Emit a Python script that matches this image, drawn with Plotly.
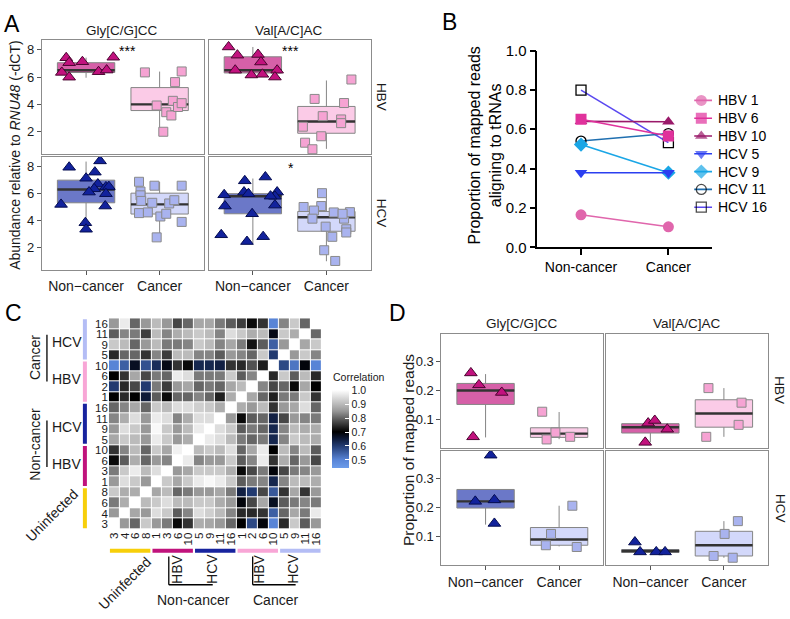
import plotly.graph_objects as go

W, H = 790, 619
FONT = "Liberation Sans, Arial, sans-serif"
TXT = "#1a1a1a"


def fx(px):
    return px / W


def fy(py):
    return 1 - py / H


# ---------------- Panel A data (abundance, -dCT) ----------------
conditions = ["Non\u2212cancer", "Cancer"]
a_gly_hbv_nc = [7.41, 7.05, 6.34, 7.12, 5.99, 6.39, 6.51, 7.45]
a_gly_hbv_nc_dx = [-0.27, -0.23, -0.33, -0.05, -0.23, 0.17, 0.28, 0.37]
a_gly_hbv_nc_box = [5.95, 6.33, 6.5, 7.05, 7.42]
a_gly_hbv_c = [6.34, 6.41, 5.63, 3.92, 3.43, 3.19, 4.26, 3.81, 4.09, 2.0]
a_gly_hbv_c_dx = [-0.2, 0.3, 0.21, -0.04, 0.09, 0.16, 0.18, 0.25, 0.3, 0.05]
a_gly_hbv_c_box = [2.0, 3.55, 4.0, 5.23, 6.4]
a_val_hbv_nc = [8.2, 7.6, 6.5, 7.65, 7.1, 6.15, 6.2, 6.5, 6.0]
a_val_hbv_nc_dx = [-0.33, -0.21, -0.24, 0.07, 0.11, -0.02, 0.13, 0.33, 0.3]
a_val_hbv_nc_box = [6.0, 6.3, 6.5, 7.48, 8.2]
a_val_hbv_c = [4.4, 3.14, 2.37, 2.9, 4.1, 2.63, 1.67, 1.2, 0.72, 5.82]
a_val_hbv_c_dx = [-0.16, -0.05, -0.32, 0.2, 0.24, 0.2, -0.07, -0.29, -0.19, 0.34]
a_val_hbv_c_box = [0.75, 1.89, 2.75, 3.85, 5.75]
a_gly_hcv_nc = [5.19, 7.93, 7.12, 7.57, 8.4, 6.69, 6.34, 6.1, 6.48, 6.5, 5.98, 5.07, 3.84, 3.36]
a_gly_hcv_nc_dx = [-0.34, -0.23, 0.0, 0.12, 0.19, 0.16, 0.11, 0.04, 0.27, 0.31, 0.27, 0.26, -0.01, 0.0]
a_gly_hcv_nc_box = [3.3, 5.31, 6.29, 6.98, 8.35]
a_gly_hcv_c = [6.86, 6.14, 5.86, 5.45, 4.55, 4.6, 6.57, 5.31, 4.3, 4.5, 5.26, 5.5, 6.57, 3.9, 2.76]
a_gly_hcv_c_dx = [-0.28, -0.26, -0.26, -0.25, -0.28, -0.16, -0.07, -0.1, 0.01, 0.09, 0.13, 0.2, 0.3, 0.3, -0.04]
a_gly_hcv_c_box = [2.75, 4.48, 5.19, 6.02, 6.85]
a_val_hcv_nc = [5.9, 6.93, 6.1, 5.98, 5.07, 7.21, 6.1, 5.79, 5.14, 4.5, 2.95, 2.45, 2.81, 5.8]
a_val_hcv_nc_dx = [-0.39, -0.11, -0.12, -0.06, -0.38, 0.17, 0.33, 0.3, 0.3, -0.01, -0.43, -0.08, 0.14, 0.24]
a_val_hcv_nc_box = [2.3, 4.5, 5.79, 5.98, 7.1]
a_val_hcv_c = [6.02, 5.0, 5.07, 4.74, 4.14, 4.6, 4.14, 4.62, 3.55, 3.36, 3.12, 2.8, 1.81, 1.02, 4.5]
a_val_hcv_c_dx = [-0.06, -0.31, -0.07, -0.17, -0.19, 0.1, 0.24, 0.32, -0.01, 0.27, 0.27, 0.08, -0.03, 0.12, 0.22]
a_val_hcv_c_box = [1.0, 3.21, 4.24, 4.67, 6.0]
a_signif = ["***", "***", "", "*"]

# ---------------- Panel B data ----------------
b_samples = ["HBV 1", "HBV 6", "HBV 10", "HCV 5", "HCV 9", "HCV 11", "HCV 16"]
b_noncancer = [0.165, 0.651, 0.640, 0.379, 0.522, 0.540, 0.799]
b_cancer = [0.104, 0.566, 0.638, 0.379, 0.379, 0.578, 0.532]
b_categories = ["Non-cancer", "Cancer"]
b_colors = ["#e066ac", "#e0329c", "#9a1a6a", "#2b3ff0", "#1aa6e6", "#1f6fb0", "#5a48f0"]
b_symbols = ["circle", "square", "triangle-up", "triangle-down", "diamond", "circle-open", "square-open"]

# ---------------- Panel C data (correlation matrix, row 0 = bottom) ----------------
c_labels = ["3", "4", "6", "8", "1", "3", "6", "10", "5", "9", "11", "16",
            "1", "2", "6", "10", "5", "9", "11", "16"]
c_groups = ["Uninfected", "Non-cancer HBV", "Non-cancer HCV", "Cancer HBV", "Cancer HCV"]
c_group_colors = ["#f7cf0a", "#c0137c", "#17239e", "#f8a6d6", "#b4bdf5"]
c_z = [
    [1.00, 0.85, 0.80, 0.92, 0.85, 0.82, 0.71, 0.75, 0.88, 0.87, 0.85, 0.80, 0.70, 0.58, 0.69, 0.50, 0.74, 0.92, 0.79, 0.85],
    [0.85, 1.00, 0.87, 0.85, 0.95, 0.92, 0.79, 0.83, 0.95, 0.93, 0.90, 0.83, 0.74, 0.74, 0.75, 0.55, 0.80, 0.87, 0.82, 0.97],
    [0.82, 0.88, 1.00, 0.90, 0.92, 0.95, 0.90, 0.90, 0.92, 0.92, 0.88, 0.85, 0.69, 0.77, 0.87, 0.67, 0.79, 0.82, 0.83, 0.82],
    [0.92, 0.88, 0.88, 1.00, 0.87, 0.90, 0.80, 0.82, 0.85, 0.85, 0.87, 0.82, 0.64, 0.60, 0.77, 0.56, 0.75, 0.87, 0.75, 0.85],
    [0.85, 0.95, 0.92, 0.85, 1.00, 0.92, 0.87, 0.92, 0.97, 0.99, 0.97, 0.92, 0.79, 0.82, 0.83, 0.63, 0.83, 0.90, 0.90, 0.88],
    [0.82, 0.92, 0.97, 0.90, 0.95, 1.00, 0.85, 0.87, 0.92, 0.92, 0.92, 0.88, 0.71, 0.77, 0.82, 0.69, 0.77, 0.82, 0.83, 0.85],
    [0.71, 0.79, 0.88, 0.80, 0.85, 0.83, 1.00, 0.97, 0.83, 0.85, 0.85, 0.92, 0.79, 0.83, 0.97, 0.75, 0.88, 0.80, 0.85, 0.77],
    [0.75, 0.83, 0.90, 0.80, 0.92, 0.87, 0.98, 1.00, 0.90, 0.92, 0.90, 0.95, 0.80, 0.87, 0.97, 0.70, 0.90, 0.83, 0.90, 0.79],
    [0.87, 0.92, 0.90, 0.85, 0.97, 0.92, 0.85, 0.88, 1.00, 0.97, 0.95, 0.90, 0.82, 0.80, 0.82, 0.63, 0.83, 0.92, 0.90, 0.88],
    [0.85, 0.95, 0.92, 0.85, 0.99, 0.92, 0.85, 0.90, 0.97, 1.00, 0.95, 0.92, 0.79, 0.82, 0.80, 0.63, 0.83, 0.90, 0.88, 0.88],
    [0.83, 0.88, 0.95, 0.85, 0.97, 0.95, 0.83, 0.88, 0.95, 0.95, 1.00, 0.85, 0.71, 0.79, 0.80, 0.64, 0.77, 0.85, 0.83, 0.82],
    [0.80, 0.83, 0.87, 0.80, 0.92, 0.90, 0.95, 0.95, 0.93, 0.92, 0.88, 1.00, 0.88, 0.85, 0.90, 0.75, 0.85, 0.87, 0.95, 0.80],
    [0.70, 0.74, 0.70, 0.65, 0.79, 0.71, 0.80, 0.80, 0.83, 0.80, 0.73, 0.88, 1.00, 0.87, 0.80, 0.73, 0.82, 0.82, 0.92, 0.75],
    [0.60, 0.74, 0.77, 0.60, 0.82, 0.76, 0.85, 0.87, 0.80, 0.82, 0.80, 0.87, 0.90, 1.00, 0.83, 0.77, 0.80, 0.71, 0.87, 0.70],
    [0.70, 0.75, 0.87, 0.77, 0.82, 0.80, 0.97, 0.95, 0.82, 0.82, 0.82, 0.92, 0.79, 0.83, 1.00, 0.74, 0.92, 0.79, 0.90, 0.74],
    [0.50, 0.55, 0.67, 0.57, 0.62, 0.68, 0.75, 0.71, 0.63, 0.63, 0.64, 0.75, 0.74, 0.78, 0.73, 1.00, 0.58, 0.52, 0.69, 0.50],
    [0.74, 0.80, 0.80, 0.75, 0.83, 0.76, 0.90, 0.90, 0.83, 0.83, 0.79, 0.85, 0.83, 0.80, 0.92, 0.60, 1.00, 0.85, 0.92, 0.83],
    [0.92, 0.90, 0.80, 0.85, 0.90, 0.82, 0.82, 0.83, 0.92, 0.90, 0.83, 0.87, 0.82, 0.72, 0.79, 0.55, 0.85, 1.00, 0.87, 0.92],
    [0.79, 0.83, 0.82, 0.76, 0.90, 0.83, 0.88, 0.90, 0.92, 0.90, 0.83, 0.95, 0.92, 0.88, 0.90, 0.68, 0.92, 0.88, 1.00, 0.80],
    [0.85, 0.97, 0.80, 0.85, 0.90, 0.85, 0.77, 0.80, 0.87, 0.87, 0.82, 0.79, 0.76, 0.71, 0.75, 0.50, 0.83, 0.92, 0.80, 1.00],
]
c_ticks = [0.5, 0.6, 0.7, 0.8, 0.9, 1.0]

# ---------------- Panel D data (proportion of mapped reads) ----------------
d_gly_hbv_nc = [0.26, 0.219, 0.193, 0.041]
d_gly_hbv_nc_dx = [-0.2, -0.09, 0.22, -0.17]
d_gly_hbv_nc_box = [0.039, 0.152, 0.2, 0.224, 0.256]
d_gly_hbv_c = [0.127, 0.056, 0.032, 0.041]
d_gly_hbv_c_dx = [-0.23, -0.05, -0.17, 0.15]
d_gly_hbv_c_box = [0.033, 0.039, 0.052, 0.072, 0.126]
d_val_hbv_nc = [0.088, 0.097, 0.067, 0.022]
d_val_hbv_nc_dx = [-0.03, 0.06, 0.23, -0.07]
d_val_hbv_nc_box = [0.022, 0.054, 0.074, 0.086, 0.097]
d_val_hbv_c = [0.208, 0.158, 0.082, 0.041]
d_val_hbv_c_dx = [-0.21, 0.24, 0.2, -0.24]
d_val_hbv_c_box = [0.041, 0.074, 0.121, 0.168, 0.208]
d_gly_hcv_nc = [0.379, 0.22, 0.225, 0.144]
d_gly_hcv_nc_dx = [0.07, -0.14, 0.12, 0.12]
d_gly_hcv_nc_box = [0.14, 0.197, 0.22, 0.261, 0.261]
d_gly_hcv_c = [0.205, 0.108, 0.069, 0.063]
d_gly_hcv_c_dx = [0.18, -0.11, -0.18, 0.24]
d_gly_hcv_c_box = [0.065, 0.069, 0.089, 0.13, 0.205]
d_val_hcv_nc = [0.08, 0.046, 0.046, 0.046]
d_val_hcv_nc_dx = [-0.21, -0.14, 0.08, 0.2]
d_val_hcv_nc_box = [0.043, 0.044, 0.049, 0.054, 0.054]
d_val_hcv_c = [0.152, 0.108, 0.032, 0.026]
d_val_hcv_c_dx = [0.19, 0.01, -0.14, 0.12]
d_val_hcv_c_box = [0.026, 0.032, 0.069, 0.117, 0.152]

# styles per group
STY = {
    "hbv_nc": dict(box="#d660a8", pt="#c2127e", edge="#4a0530", sym="triangle-up", size=11),
    "hbv_c": dict(box="#fbcbe7", pt="#f6a3d3", edge="#8a8a8a", sym="square", size=9),
    "hcv_nc": dict(box="#6b78c8", pt="#12229c", edge="#050d50", sym="triangle-up", size=11),
    "hcv_c": dict(box="#d3d8fa", pt="#a9b3ef", edge="#8a8a8a", sym="square", size=9),
}

fig = go.Figure()


def ax_names(n):
    return ("x" if n == 1 else f"x{n}"), ("y" if n == 1 else f"y{n}")


def add_group(n, pos, vals, dxs, stats, style):
    xa, ya = ax_names(n)
    s = STY[style]
    lo, q1, med, q3, hi = stats
    bw = 0.78
    fig.add_trace(go.Box(x=[pos], q1=[q1], median=[med], q3=[q3], lowerfence=[lo], upperfence=[hi],
                         width=bw, fillcolor=s["box"], line=dict(color="#858585", width=1),
                         whiskerwidth=0, boxpoints=False, xaxis=xa, yaxis=ya,
                         showlegend=False, hoverinfo="skip"))
    fig.add_trace(go.Scatter(x=[pos - bw / 2, pos + bw / 2], y=[med, med], mode="lines",
                             line=dict(color="#333333", width=2.4), xaxis=xa, yaxis=ya,
                             showlegend=False, hoverinfo="skip"))
    fig.add_trace(go.Scatter(x=[pos + d for d in dxs], y=vals, mode="markers",
                             marker=dict(symbol=s["sym"], size=s["size"], color=s["pt"],
                                         line=dict(color=s["edge"], width=1)),
                             xaxis=xa, yaxis=ya, showlegend=False, hoverinfo="skip"))


layout_axes = {}


def facet_axes(n, x0, x1, y0, y1, yrange, ytickvals, show_x, show_y, yfmt):
    xk = "xaxis" if n == 1 else f"xaxis{n}"
    yk = "yaxis" if n == 1 else f"yaxis{n}"
    xa, ya = ax_names(n)
    layout_axes[xk] = dict(domain=[fx(x0), fx(x1)], anchor=ya, range=[-0.6, 1.6], type="linear",
                           tickvals=[0, 1], ticktext=conditions, showticklabels=show_x,
                           ticks="outside" if show_x else "", ticklen=4, tickcolor="#555555",
                           showline=True, mirror=True, linecolor="#8c8c8c", linewidth=1,
                           showgrid=False, zeroline=False,
                           tickfont=dict(family=FONT, size=14, color=TXT))
    layout_axes[yk] = dict(domain=[fy(y1), fy(y0)], anchor=xa, range=yrange, type="linear",
                           tickvals=ytickvals, tickformat=yfmt, showticklabels=show_y,
                           ticks="outside" if show_y else "", ticklen=4, tickcolor="#555555",
                           showline=True, mirror=True, linecolor="#8c8c8c", linewidth=1,
                           showgrid=False, zeroline=False,
                           tickfont=dict(family=FONT, size=13, color=TXT))


# ---- Panel A ----
A_YR = [0.38, 8.7]
facet_axes(1, 41, 203, 32, 149, A_YR, [2, 4, 6, 8], False, True, "d")
facet_axes(2, 208, 370, 32, 149, A_YR, [2, 4, 6, 8], False, False, "d")
facet_axes(3, 41, 203, 152, 268, A_YR, [2, 4, 6, 8], True, True, "d")
facet_axes(4, 208, 370, 152, 268, A_YR, [2, 4, 6, 8], True, False, "d")

add_group(1, 0, a_gly_hbv_nc, a_gly_hbv_nc_dx, a_gly_hbv_nc_box, "hbv_nc")
add_group(1, 1, a_gly_hbv_c, a_gly_hbv_c_dx, a_gly_hbv_c_box, "hbv_c")
add_group(2, 0, a_val_hbv_nc, a_val_hbv_nc_dx, a_val_hbv_nc_box, "hbv_nc")
add_group(2, 1, a_val_hbv_c, a_val_hbv_c_dx, a_val_hbv_c_box, "hbv_c")
add_group(3, 0, a_gly_hcv_nc, a_gly_hcv_nc_dx, a_gly_hcv_nc_box, "hcv_nc")
add_group(3, 1, a_gly_hcv_c, a_gly_hcv_c_dx, a_gly_hcv_c_box, "hcv_c")
add_group(4, 0, a_val_hcv_nc, a_val_hcv_nc_dx, a_val_hcv_nc_box, "hcv_nc")
add_group(4, 1, a_val_hcv_c, a_val_hcv_c_dx, a_val_hcv_c_box, "hcv_c")

# ---- Panel D ----
D_YR_T = [0.004, 0.394]
D_YR_B = [0.0, 0.395]
facet_axes(7, 441, 603, 334, 451, D_YR_T, [0.1, 0.2, 0.3], False, True, ".1f")
facet_axes(8, 606, 768, 334, 451, D_YR_T, [0.1, 0.2, 0.3], False, False, ".1f")
facet_axes(9, 441, 603, 454, 572, D_YR_B, [0.1, 0.2, 0.3], True, True, ".1f")
facet_axes(10, 606, 768, 454, 572, D_YR_B, [0.1, 0.2, 0.3], True, False, ".1f")

add_group(7, 0, d_gly_hbv_nc, d_gly_hbv_nc_dx, d_gly_hbv_nc_box, "hbv_nc")
add_group(7, 1, d_gly_hbv_c, d_gly_hbv_c_dx, d_gly_hbv_c_box, "hbv_c")
add_group(8, 0, d_val_hbv_nc, d_val_hbv_nc_dx, d_val_hbv_nc_box, "hbv_nc")
add_group(8, 1, d_val_hbv_c, d_val_hbv_c_dx, d_val_hbv_c_box, "hbv_c")
add_group(9, 0, d_gly_hcv_nc, d_gly_hcv_nc_dx, d_gly_hcv_nc_box, "hcv_nc")
add_group(9, 1, d_gly_hcv_c, d_gly_hcv_c_dx, d_gly_hcv_c_box, "hcv_c")
add_group(10, 0, d_val_hcv_nc, d_val_hcv_nc_dx, d_val_hcv_nc_box, "hcv_nc")
add_group(10, 1, d_val_hcv_c, d_val_hcv_c_dx, d_val_hcv_c_box, "hcv_c")

# ---- Panel B ----
n_b = len(b_samples)


def b_marker(i, size):
    sym = b_symbols[i]
    is_open = sym.endswith("open")
    mcol = "#000000" if is_open else b_colors[i]
    return dict(symbol=sym, size=size, color=mcol,
                line=dict(color=mcol, width=1.3 if is_open else 0))


for i in reversed(range(n_b)):
    is_open = b_symbols[i].endswith("open")
    fig.add_trace(go.Scatter(
        x=[0, 1], y=[b_noncancer[i], b_cancer[i]], mode="lines+markers", name=b_samples[i],
        line=dict(color=b_colors[i], width=1.6),
        marker=b_marker(i, 10 if is_open else 11),
        xaxis="x5", yaxis="y5", hoverinfo="skip", showlegend=False))

# custom legend (axis 11): one row per sample
for i in range(n_b):
    is_open = b_symbols[i].endswith("open")
    mk = b_marker(i, 10 if is_open else 11)
    mk["size"] = [0, mk["size"], 0]
    fig.add_trace(go.Scatter(
        x=[0, 0.4, 1], y=[i, i, i], mode="lines+markers",
        line=dict(color=b_colors[i], width=1.6), marker=mk,
        xaxis="x11", yaxis="y11", hoverinfo="skip", showlegend=False))

LEG_TOP, LEG_STEP = 94, 18.3
layout_axes["xaxis11"] = dict(domain=[fx(694), fx(712)], anchor="y11", range=[0, 1], visible=False)
layout_axes["yaxis11"] = dict(domain=[fy(LEG_TOP + (n_b - 0.5) * LEG_STEP), fy(LEG_TOP - 0.5 * LEG_STEP)],
                              anchor="x11", range=[n_b - 0.5, -0.5], visible=False)

layout_axes["xaxis5"] = dict(domain=[fx(537), fx(712)], anchor="y5", range=[-0.5, 1.5], type="linear",
                             tickvals=[0, 1], ticktext=b_categories, ticks="outside", ticklen=6,
                             tickwidth=1.5, tickcolor="#000", showline=True, linecolor="#000",
                             linewidth=1.5, showgrid=False, zeroline=False,
                             tickfont=dict(family=FONT, size=14, color="#000"))
layout_axes["yaxis5"] = dict(domain=[fy(245), fy(42.7)], anchor="x5", range=[0, 1.0],
                             tickvals=[0, 0.2, 0.4, 0.6, 0.8, 1.0], tickformat=".1f", ticks="outside",
                             ticklen=6, tickwidth=1.5, tickcolor="#000", showline=True, linecolor="#000",
                             linewidth=1.5, showgrid=False, zeroline=False,
                             tickfont=dict(family=FONT, size=15, color="#000"))

# ---- Panel C heatmap ----
ZMIN, ZMAX = 0.44, 1.0
stops = [(0.44, "#6c9cea"), (0.5, "#5884d6"), (0.6, "#223a70"), (0.65, "#0e1a38"), (0.7, "#000000"),
         (0.75, "#333333"), (0.8, "#666666"), (0.85, "#999999"), (0.9, "#bbbbbb"), (0.95, "#dddddd"),
         (1.0, "#ffffff")]
cscale = [[(v - ZMIN) / (ZMAX - ZMIN), c] for v, c in stops]
n_c = len(c_labels)
fig.add_trace(go.Heatmap(
    z=c_z, x=list(range(n_c)), y=list(range(n_c)), colorscale=cscale, zmin=ZMIN, zmax=ZMAX,
    xgap=1, ygap=1, xaxis="x6", yaxis="y6", hoverinfo="skip",
    colorbar=dict(x=fx(331), xanchor="left", xpad=0, y=fy(392), yanchor="top", ypad=0,
                  len=80 / H, lenmode="fraction", thickness=17, outlinewidth=0,
                  tickvals=c_ticks, tickformat=".1f", ticks="inside", ticklen=4, tickcolor="#ffffff",
                  tickfont=dict(family=FONT, size=10.5, color=TXT))))
layout_axes["xaxis6"] = dict(domain=[fx(108), fx(321)], anchor="y6", range=[-0.5, n_c - 0.5],
                             tickvals=list(range(n_c)), ticktext=c_labels, tickangle=-90, ticks="",
                             showline=False, showgrid=False, zeroline=False,
                             tickfont=dict(family=FONT, size=11.5, color=TXT))
layout_axes["yaxis6"] = dict(domain=[fy(535), fy(318)], anchor="x6", range=[-0.5, n_c - 0.5],
                             tickvals=list(range(n_c)), ticktext=c_labels, ticks="",
                             showline=False, showgrid=False, zeroline=False,
                             tickfont=dict(family=FONT, size=11.5, color=TXT))

shapes = []
gsize = n_c // len(c_groups)
for g, col in enumerate(c_group_colors):
    a0 = g * gsize - 0.5 + 0.1
    a1 = (g + 1) * gsize - 0.5 - 0.1
    shapes.append(dict(type="rect", xref="x6", yref="paper", x0=a0, x1=a1, y0=fy(559), y1=fy(555),
                       fillcolor=col, line=dict(width=0)))
    shapes.append(dict(type="rect", xref="paper", yref="y6", x0=fx(82), x1=fx(86), y0=a0, y1=a1,
                       fillcolor=col, line=dict(width=0)))


def pline(x0, y0, x1, y1, w=1.3):
    shapes.append(dict(type="line", xref="paper", yref="paper", x0=fx(x0), y0=fy(y0), x1=fx(x1), y1=fy(y1),
                       line=dict(color="#000", width=w)))


# bracket lines for group labels
pline(46, 335, 46, 383)
pline(46, 423, 46, 471)
pline(168, 563, 168, 592)
pline(168, 592, 212, 592)
pline(252, 563, 252, 592)
pline(252, 592, 295, 592)

annotations = []


def txt(s, x, y, size, angle=0, color=TXT, xanchor="center", yanchor="middle"):
    annotations.append(dict(text=s, x=fx(x), y=fy(y), xref="paper", yref="paper", showarrow=False,
                            font=dict(family=FONT, size=size, color=color), textangle=angle,
                            xanchor=xanchor, yanchor=yanchor))


# panel letters
txt("A", 11, 15, 23, color="#000")
txt("B", 449, 13, 23, color="#000")
txt("C", 13, 313, 23, color="#000")
txt("D", 397, 313, 23, color="#000")

# panel A strips & labels
txt("Gly[C/G]CC", 121, 22, 13.5)
txt("Val[A/C]AC", 288, 22, 13.5)
txt("HBV", 381, 90, 13.5, angle=90)
txt("HCV", 381, 210, 13.5, angle=90)
txt("Abundance relative to <i>RNU48</i> (-dCT)", 14, 150, 14, angle=-90)
txt(a_signif[0], 127, 43, 14, color="#000")
txt(a_signif[1], 290, 43, 14, color="#000")
txt(a_signif[3], 290, 163, 14, color="#000")

# panel B title and legend labels
txt("Proportion of mapped reads<br>aligning to tRNAs", 485, 140, 16, angle=-90, color="#000")
for i in range(n_b):
    txt(b_samples[i], 716, LEG_TOP + i * LEG_STEP, 14, color="#000", xanchor="left")

# panel C colorbar title and group labels
txt("Correlation", 330, 378, 10.5, xanchor="left")
txt("Cancer", 34, 358, 14, angle=-90)
txt("HCV", 49, 342, 14, xanchor="left")
txt("HBV", 49, 380, 14, xanchor="left")
txt("Non-cancer", 34, 447, 14, angle=-90)
txt("HCV", 49, 430, 14, xanchor="left")
txt("HBV", 49, 468, 14, xanchor="left")
txt("Uninfected", 51, 520, 14, angle=-45)
txt("Uninfected", 124, 590, 14, angle=-45)
txt("HBV", 176, 576, 14, angle=-90)
txt("HCV", 211, 576, 14, angle=-90)
txt("HBV", 259, 576, 14, angle=-90)
txt("HCV", 293, 576, 14, angle=-90)
txt("Non-cancer", 193, 608, 14)
txt("Cancer", 275, 608, 14)

# panel D strips & labels
txt("Gly[C/G]CC", 522, 323, 13.5)
txt("Val[A/C]AC", 687, 323, 13.5)
txt("HBV", 780, 392, 13.5, angle=90)
txt("HCV", 780, 513, 13.5, angle=90)
txt("Proportion of mapped reads", 408, 453, 15.5, angle=-90)

fig.update_layout(
    width=W, height=H, margin=dict(l=0, r=0, t=0, b=0),
    paper_bgcolor="white", plot_bgcolor="white",
    font=dict(family=FONT, color=TXT),
    showlegend=False,
    shapes=shapes, annotations=annotations,
    **layout_axes,
)

fig.write_html("out.html", config={"displayModeBar": False},
               post_script="document.body.style.margin='0px';")
